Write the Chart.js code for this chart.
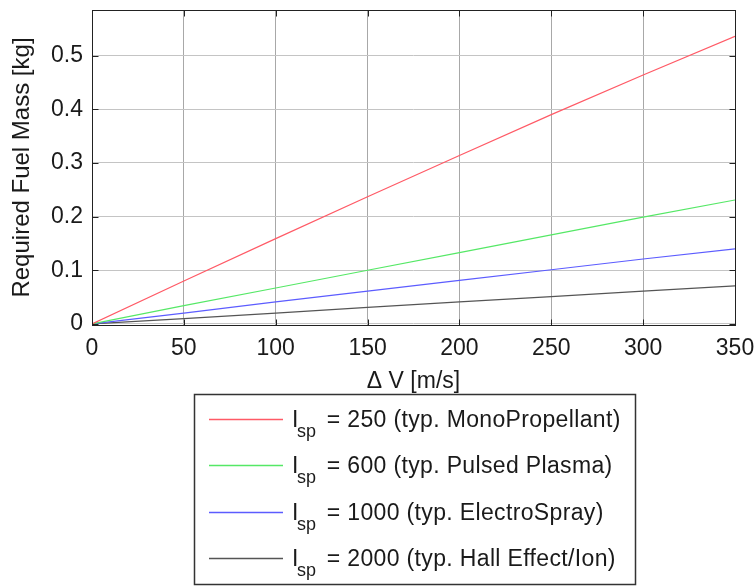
<!DOCTYPE html>
<html><head><meta charset="utf-8">
<style>html,body{margin:0;padding:0;background:#fff}#wrap{width:756px;height:586px;position:relative}canvas{display:block}</style>
</head><body><div id="wrap"><canvas id="c" width="756" height="586"></canvas></div>
<script src="https://cdn.jsdelivr.net/npm/chart.js@4.4.1/dist/chart.umd.min.js"></script>
<script>
const deltaV = [0, 50, 100, 150, 200, 250, 300, 350];
const massMono = [0, 0.080, 0.159, 0.237, 0.314, 0.390, 0.464, 0.536];
const massPPT = [0, 0.034, 0.067, 0.100, 0.133, 0.166, 0.199, 0.231];
const massES = [0, 0.020, 0.041, 0.061, 0.081, 0.101, 0.121, 0.140];
const massHall = [0, 0.010, 0.020, 0.031, 0.041, 0.051, 0.061, 0.071];
const ispValues = ['250', '600', '1000', '2000'];
const thrusterTypes = ['MonoPropellant', 'Pulsed Plasma', 'ElectroSpray', 'Hall Effect/Ion'];
const xTicks = [0, 50, 100, 150, 200, 250, 300, 350];
const yTicks = [0, 0.1, 0.2, 0.3, 0.4, 0.5];
const yTickLabels = ['0', '0.1', '0.2', '0.3', '0.4', '0.5'];
const xTitle = 'Δ V [m/s]';
const yTitle = 'Required Fuel Mass [kg]';

const FONT = '"Liberation Sans", Arial, Helvetica, sans-serif';
const colors = ['#ff5a66', '#55e866', '#5c5cff', '#555555'];
const series = [massMono, massPPT, massES, massHall];

const datasets = series.map((s, i) => ({
  label: 'Isp = ' + ispValues[i] + ' (typ. ' + thrusterTypes[i] + ')',
  data: deltaV.map((v, j) => ({x: v, y: s[j]})),
  borderColor: colors[i],
  borderWidth: 1.2,
  pointRadius: 0,
  tension: 0,
  fill: false
}));

const framePlugin = {
  id: 'frame',
  afterDraw(chart) {
    const {ctx, chartArea: a, scales: {x, y}} = chart;
    ctx.save();
    ctx.strokeStyle = '#222';
    ctx.lineWidth = 1;
    const L = Math.round(a.left) + 0.5, R = Math.round(a.right) + 0.5;
    const T = Math.round(a.top) + 0.5, B = Math.round(a.bottom) + 0.5;
    ctx.strokeRect(L, T, R - L, B - T);
    ctx.beginPath();
    xTicks.forEach(v => {
      const px = Math.round(x.getPixelForValue(v)) + 0.5;
      ctx.moveTo(px, B); ctx.lineTo(px, B - 6);
      ctx.moveTo(px, T); ctx.lineTo(px, T + 6);
    });
    yTicks.forEach(v => {
      const py = Math.round(y.getPixelForValue(v)) + 0.5;
      ctx.moveTo(L, py); ctx.lineTo(L + 6, py);
      ctx.moveTo(R, py); ctx.lineTo(R - 6, py);
    });
    ctx.stroke();

    // legend box
    const bx = 194.5, by = 394.5, bw = 441, bh = 190;
    ctx.fillStyle = '#fff';
    ctx.fillRect(bx, by, bw, bh);
    ctx.strokeStyle = '#333';
    ctx.lineWidth = 1.5;
    ctx.strokeRect(bx, by, bw, bh);
    chart.data.datasets.forEach((ds, i) => {
      const cy = 419 + i * 46.3;
      ctx.strokeStyle = ds.borderColor;
      ctx.lineWidth = 1.4;
      ctx.beginPath();
      ctx.moveTo(209, Math.round(cy) + 0.5);
      ctx.lineTo(283, Math.round(cy) + 0.5);
      ctx.stroke();
      ctx.fillStyle = '#1a1a1a';
      ctx.textBaseline = 'alphabetic';
      ctx.textAlign = 'left';
      const base = cy + 8;
      ctx.letterSpacing = '0px';
      ctx.font = '23px ' + FONT;
      ctx.fillText('I', 292, base);
      ctx.font = '18px ' + FONT;
      ctx.fillText('sp', 297, base + 10);
      ctx.font = '23px ' + FONT;
      ctx.letterSpacing = '0.35px';
      ctx.fillText(' = ' + ispValues[i] + ' (typ. ' + thrusterTypes[i] + ')', 320, base);
      ctx.letterSpacing = '0px';
    });
    ctx.restore();
  }
};

new Chart(document.getElementById('c'), {
  type: 'line',
  data: {datasets},
  options: {
    responsive: false,
    animation: false,
    devicePixelRatio: 1,
    layout: {padding: {top: 10, right: 21, left: 0, bottom: 191}},
    plugins: {legend: {display: false}, tooltip: {enabled: false}},
    scales: {
      x: {
        type: 'linear', min: 0, max: 350,
        afterBuildTicks: s => { s.ticks = xTicks.map(v => ({value: v})); },
        afterFit: s => { s.height = 70; s.paddingLeft = 0; s.paddingRight = 0; },
        grid: {color: '#a8a8a8', lineWidth: 1, drawTicks: false},
        border: {display: false},
        ticks: {font: {size: 23, family: FONT}, color: '#1a1a1a', padding: 10, maxRotation: 0,
          callback: v => String(v)},
        title: {display: true, text: xTitle, font: {size: 23, family: FONT}, color: '#1a1a1a', padding: {top: 0, bottom: 0}}
      },
      y: {
        type: 'linear', min: -0.002, max: 0.585,
        afterBuildTicks: s => { s.ticks = yTicks.map(v => ({value: v})); },
        afterFit: s => { s.width = 92; s.paddingTop = 0; s.paddingBottom = 0; },
        grid: {color: '#c4c4c4', lineWidth: 1, drawTicks: false},
        border: {display: false},
        ticks: {font: {size: 23, family: FONT}, color: '#1a1a1a', padding: 9,
          callback: (v) => { const k = yTicks.indexOf(v); return k >= 0 ? yTickLabels[k] : ''; }},
        title: {display: true, text: yTitle, font: {size: 24, family: FONT}, color: '#1a1a1a', padding: {top: 8, bottom: 0}}
      }
    }
  },
  plugins: [framePlugin]
});
</script>
</body></html>
